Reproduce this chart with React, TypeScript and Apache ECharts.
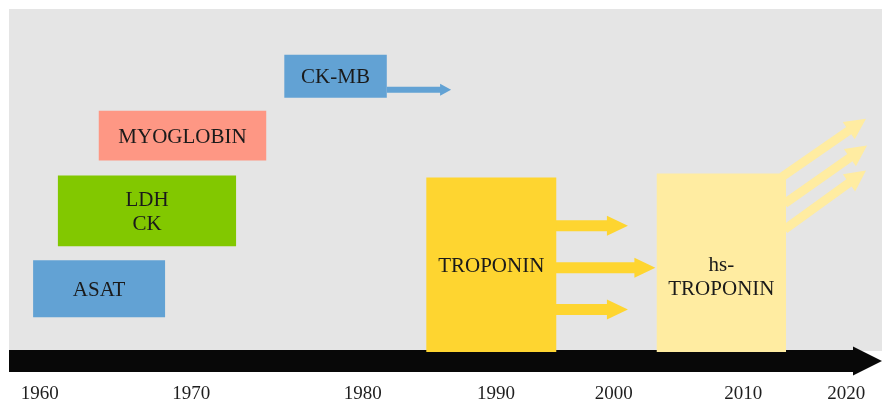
import React, { useEffect, useRef } from "react";
import * as echarts from "echarts";

// Timeline tick labels and the spot on the (schematic) timeline axis where each sits
const tickLabels = ["1960", "1970", "1980", "1990", "2000", "2010", "2020"];
const tickSpots = [1959.8, 1971.1, 1983.9, 1993.85, 2002.65, 2012.3, 2020.0];

// Biomarker boxes: name, start / end on the timeline, low / high on the vertical 0-100 scale
const markerNames = ["ASAT", "LDH\nCK", "MYOGLOBIN", "CK-MB", "TROPONIN", "hs-\nTROPONIN"];
const markerStart = [1959.3, 1961.15, 1964.2, 1978.05, 1988.65, 2005.85];
const markerEnd = [1969.15, 1974.45, 1976.7, 1985.7, 1998.35, 2015.5];
const markerLow = [12.45, 32.6, 56.95, 74.8, 2.55, 2.55];
const markerHigh = [28.6, 52.7, 71.1, 87.0, 52.1, 53.25];

// Arrows: tail (x, y), tip (x, y), kind (0 = CK-MB, 1 = troponin, 2 = hs-troponin)
const arrowTailX = [1985.7, 1998.3, 1998.3, 1998.3, 2015.2, 2015.4, 2015.4];
const arrowTailY = [77.05, 38.4, 26.5, 14.6, 52.3, 44.75, 37.4];
const arrowTipX = [1990.5, 2003.7, 2005.75, 2003.7, 2021.47, 2021.55, 2021.47];
const arrowTipY = [77.05, 38.4, 26.5, 14.6, 68.85, 61.2, 54.1];
const arrowKind = [0, 1, 1, 1, 2, 2, 2];

const palette = ["#62a2d4", "#82c800", "#fe9784", "#62a2d4", "#fed530", "#ffeca1"];
const arrowStyles = [
  { color: "#62a2d4", shaft: 6, head: 12, headLen: 11 },
  { color: "#fed530", shaft: 11, head: 20, headLen: 21 },
  { color: "#ffeca1", shaft: 9, head: 21, headLen: 21 },
];
const FONT = '"Liberation Serif", "Times New Roman", serif';

export default function App() {
  const ref = useRef<HTMLDivElement>(null);
  useEffect(() => {
    if (!ref.current) return;
    const chart = echarts.init(ref.current, null, { renderer: "svg" });
    const boxData = markerNames.map((n, i) => [markerStart[i], markerEnd[i], markerLow[i], markerHigh[i], i]);
    const arrowData = arrowKind.map((k, i) => [arrowTailX[i], arrowTailY[i], arrowTipX[i], arrowTipY[i], k]);
    const labelNudge: Record<number, number> = { 5: 13 };

    chart.setOption({
      animation: false,
      graphic: [
        { type: "rect", z: -10, shape: { x: 9, y: 9, width: 873, height: 342 }, style: { fill: "#e5e5e5" } },
      ],
      grid: { left: 9, right: 29, top: 9, bottom: 40 },
      xAxis: {
        type: "value",
        min: 1957.5,
        max: 2020.5,
        splitLine: { show: false },
        axisTick: { show: false },
        axisLine: {
          show: true,
          onZero: false,
          lineStyle: { color: "#080808", width: 22, cap: "butt" },
          symbol: ["none", "path://M5,0 L10,10 L0,10 Z"],
          symbolSize: [37, 29],
          symbolOffset: [0, 14.5],
        },
        axisLabel: {
          customValues: tickSpots,
          formatter: (v: number) => {
            let best = 0;
            tickSpots.forEach((s, i) => {
              if (Math.abs(s - v) < Math.abs(tickSpots[best] - v)) best = i;
            });
            return tickLabels[best];
          },
          margin: 22,
          fontFamily: FONT,
          fontSize: 19,
          color: "#1e1e1e",
        },
      },
      yAxis: { type: "value", min: 0, max: 100, show: false },
      series: [
        {
          type: "custom",
          z: 2,
          clip: false,
          data: arrowData,
          renderItem: (params: any, api: any) => {
            const a = api.coord([api.value(0), api.value(1)]);
            const b = api.coord([api.value(2), api.value(3)]);
            const k = arrowStyles[api.value(4)];
            const dx = b[0] - a[0];
            const dy = b[1] - a[1];
            const len = Math.hypot(dx, dy);
            const ux = dx / len;
            const uy = dy / len;
            const nx = -uy;
            const ny = ux;
            const bx = b[0] - ux * k.headLen;
            const by = b[1] - uy * k.headLen;
            const s = k.shaft / 2;
            const h = k.head / 2;
            const points = [
              [a[0] + nx * s, a[1] + ny * s],
              [bx + nx * s, by + ny * s],
              [bx + nx * h, by + ny * h],
              [b[0], b[1]],
              [bx - nx * h, by - ny * h],
              [bx - nx * s, by - ny * s],
              [a[0] - nx * s, a[1] - ny * s],
            ];
            return { type: "polygon", shape: { points }, style: { fill: k.color } };
          },
        },
        {
          type: "custom",
          z: 3,
          clip: false,
          data: boxData,
          renderItem: (params: any, api: any) => {
            const p0 = api.coord([api.value(0), api.value(3)]);
            const p1 = api.coord([api.value(1), api.value(2)]);
            const idx = api.value(4);
            const w = p1[0] - p0[0];
            const h = p1[1] - p0[1];
            return {
              type: "group",
              children: [
                { type: "rect", shape: { x: p0[0], y: p0[1], width: w, height: h }, style: { fill: palette[idx] } },
                {
                  type: "text",
                  style: {
                    text: markerNames[idx],
                    x: p0[0] + w / 2,
                    y: p0[1] + h / 2 + (labelNudge[idx] || 0),
                    align: "center",
                    verticalAlign: "middle",
                    font: `21px ${FONT}`,
                    lineHeight: 24,
                    fill: "#1a1a1a",
                  },
                },
              ],
            };
          },
        },
      ],
    });
    return () => chart.dispose();
  }, []);
  return <div ref={ref} style={{ position: "fixed", left: 0, top: 0, width: 882, height: 402 }} />;
}
